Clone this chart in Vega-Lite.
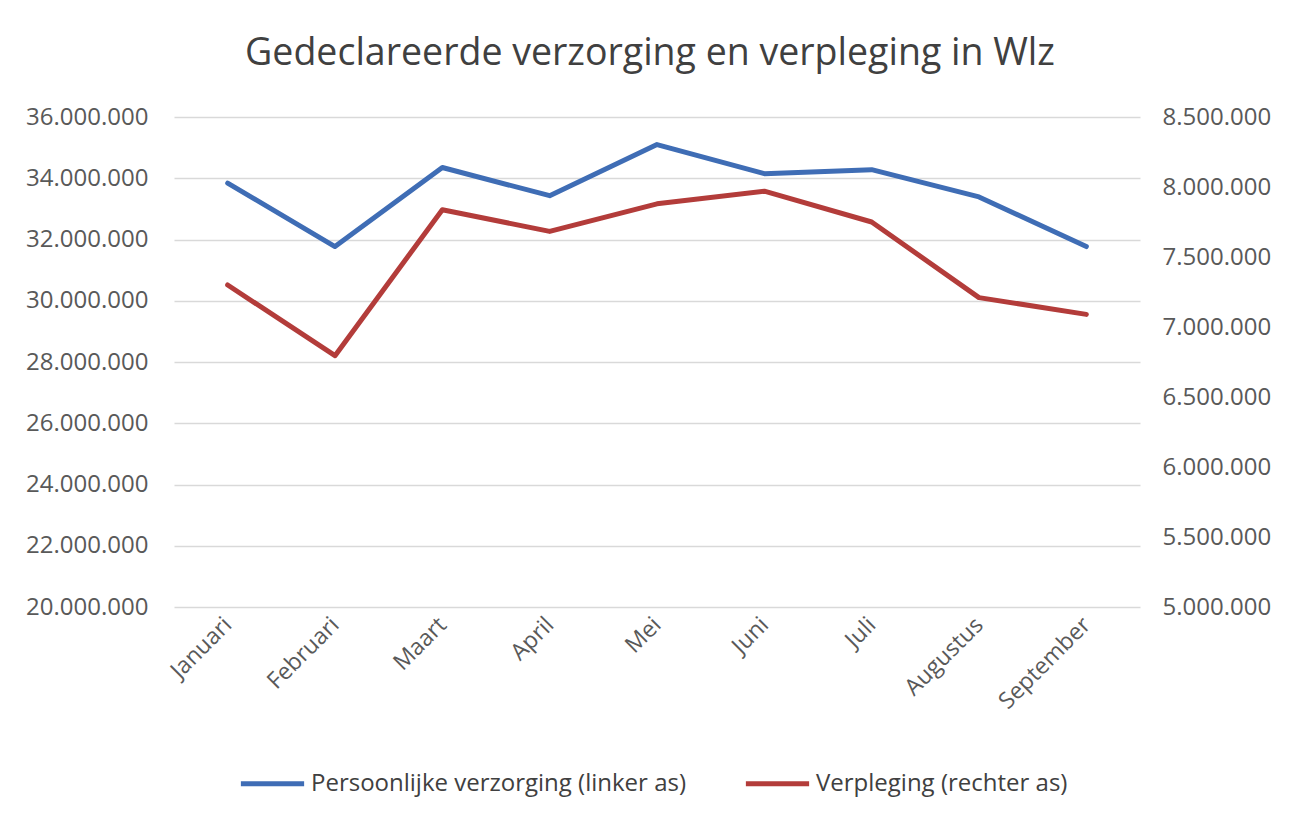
{
  "$schema": "https://vega.github.io/schema/vega-lite/v6.json",
  "width": 966,
  "height": 490,
  "autosize": {"type": "none"},
  "padding": {"left": 174, "top": 117, "right": 159, "bottom": 222},
  "background": "white",
  "title": {
    "text": "Gedeclareerde verzorging en verpleging in Wlz",
    "font": "Open Sans",
    "fontSize": 37.5,
    "fontWeight": "normal",
    "color": "#404040",
    "anchor": "middle",
    "frame": "group",
    "offset": 33,
    "dx": -7
  },
  "data": {
    "values": [
      {"maand": "Januari", "persoonlijk": 33840000, "verpleging": 7300000},
      {"maand": "Februari", "persoonlijk": 31770000, "verpleging": 6795000},
      {"maand": "Maart", "persoonlijk": 34350000, "verpleging": 7838000},
      {"maand": "April", "persoonlijk": 33430000, "verpleging": 7683000},
      {"maand": "Mei", "persoonlijk": 35100000, "verpleging": 7880000},
      {"maand": "Juni", "persoonlijk": 34150000, "verpleging": 7970000},
      {"maand": "Juli", "persoonlijk": 34280000, "verpleging": 7750000},
      {"maand": "Augustus", "persoonlijk": 33390000, "verpleging": 7210000},
      {"maand": "September", "persoonlijk": 31770000, "verpleging": 7090000}
    ]
  },
  "encoding": {
    "x": {
      "field": "maand",
      "type": "ordinal",
      "sort": null,
      "scale": {"type": "point", "padding": 0.5},
      "axis": {
        "title": null,
        "labelAngle": -45,
        "labelAlign": "right",
        "labelBaseline": "middle",
        "labelPadding": 14,
        "labelFont": "Open Sans",
        "labelFontSize": 23,
        "labelColor": "#595959",
        "labelLimit": 0,
        "domain": false,
        "ticks": false,
        "grid": false
      }
    }
  },
  "layer": [
    {
      "mark": {"type": "line", "strokeWidth": 5, "strokeCap": "round", "strokeJoin": "round"},
      "encoding": {
        "y": {
          "field": "persoonlijk",
          "type": "quantitative",
          "scale": {"domain": [20000000, 36000000], "zero": false, "nice": false},
          "axis": {
            "title": null,
            "orient": "left",
            "values": [20000000, 22000000, 24000000, 26000000, 28000000, 30000000, 32000000, 34000000, 36000000],
            "format": ",d",
            "labelExpr": "replace(datum.label, /,/g, '.')",
            "labelFont": "Open Sans",
            "labelFontSize": 24,
            "labelColor": "#595959",
            "labelPadding": 26,
            "labelLimit": 0,
            "domain": false,
            "ticks": false,
            "grid": true,
            "gridColor": "#D9D9D9",
            "gridWidth": 1.5
          }
        },
        "color": {"datum": "Persoonlijke verzorging (linker as)"}
      }
    },
    {
      "mark": {"type": "line", "strokeWidth": 5, "strokeCap": "round", "strokeJoin": "round"},
      "encoding": {
        "y": {
          "field": "verpleging",
          "type": "quantitative",
          "scale": {"domain": [5000000, 8500000], "zero": false, "nice": false},
          "axis": {
            "title": null,
            "orient": "right",
            "values": [5000000, 5500000, 6000000, 6500000, 7000000, 7500000, 8000000, 8500000],
            "format": ",d",
            "labelExpr": "replace(datum.label, /,/g, '.')",
            "labelFont": "Open Sans",
            "labelFontSize": 24,
            "labelColor": "#595959",
            "labelPadding": 22,
            "labelLimit": 0,
            "domain": false,
            "ticks": false,
            "grid": false
          }
        },
        "color": {"datum": "Verpleging (rechter as)"}
      }
    }
  ],
  "resolve": {"scale": {"y": "independent"}},
  "config": {
    "view": {"stroke": null},
    "range": {"category": ["#3F6DB5", "#B33C3A"]},
    "legend": {
      "orient": "none",
      "legendX": 64,
      "legendY": 632,
      "direction": "horizontal",
      "title": null,
      "symbolType": "stroke",
      "symbolSize": 4000,
      "symbolStrokeWidth": 5,
      "labelFont": "Open Sans",
      "labelFontSize": 24,
      "labelColor": "#404040",
      "labelOffset": 4,
      "labelLimit": 0,
      "columnPadding": 49,
      "padding": 0
    }
  }
}
